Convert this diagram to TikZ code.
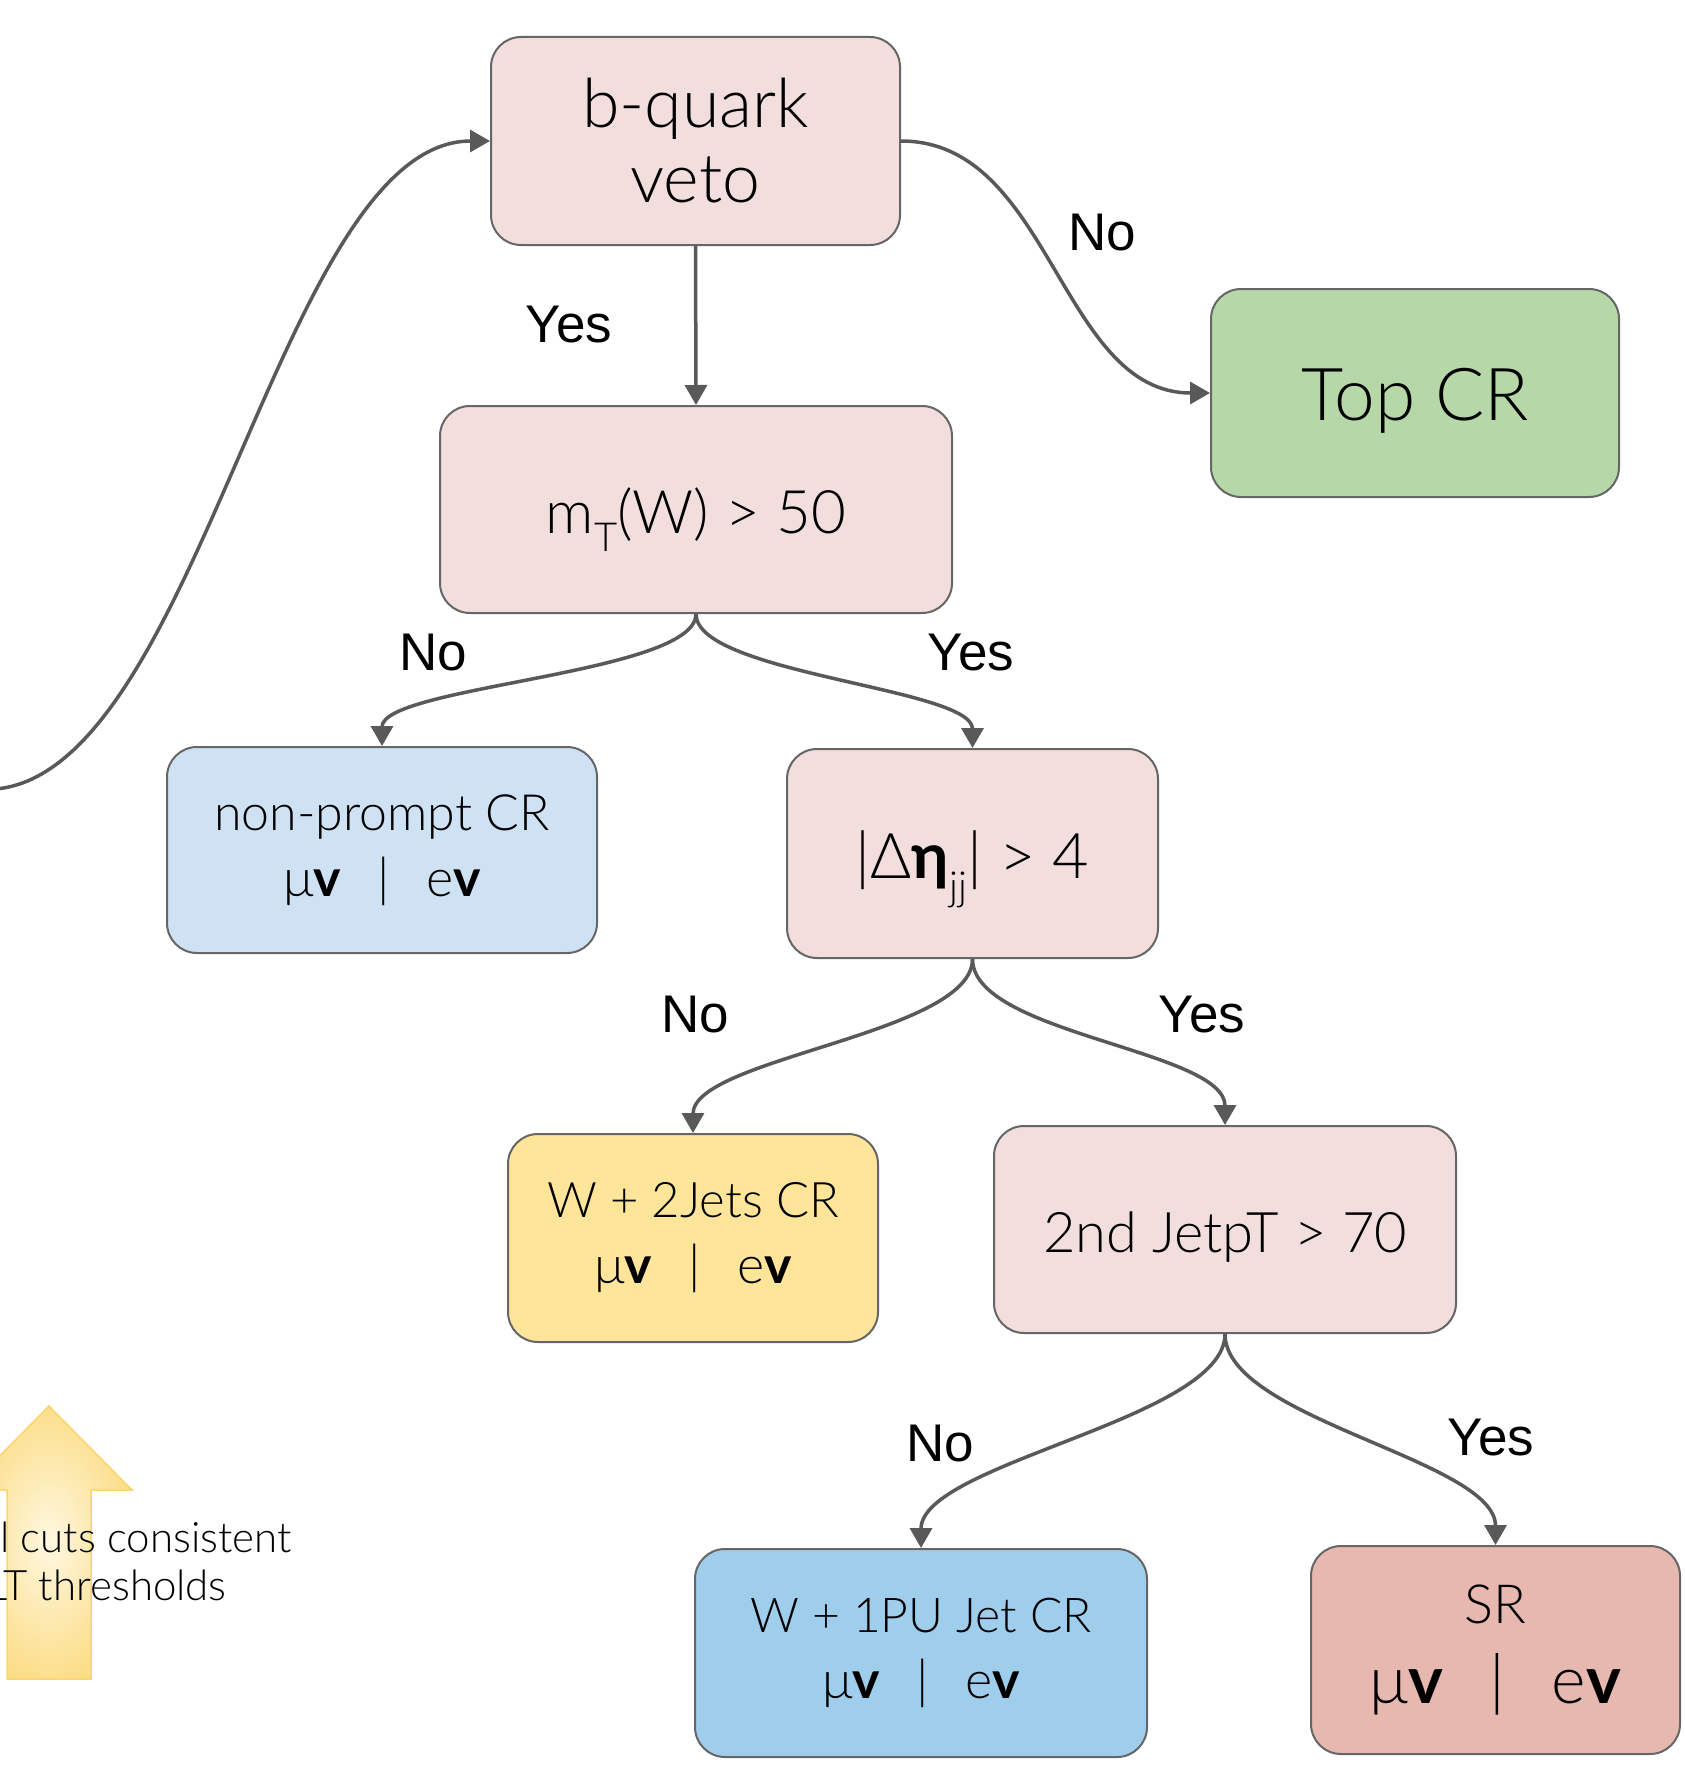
\documentclass[tikz,border=0pt]{standalone}
\usepackage{fontspec}
\setmainfont{Lato}[UprightFont=* Light, BoldFont=* Bold]
\newfontfamily\labelfont{Liberation Sans}
\usetikzlibrary{arrows.meta}

\definecolor{boxline}{HTML}{666666}
\definecolor{wire}{HTML}{595959}
\definecolor{cutpink}{HTML}{F2DEDD}
\definecolor{topgreen}{HTML}{B6D7A8}
\definecolor{npblue}{HTML}{CFE2F3}
\definecolor{wjyellow}{HTML}{FFE599}
\definecolor{publue}{HTML}{9FCDEC}
\definecolor{srred}{HTML}{E6B8AF}
\definecolor{glowin}{HTML}{FFF7E0}
\definecolor{glowout}{HTML}{FAD466}
\definecolor{glowedge}{HTML}{F9D66E}
\pgfdeclareradialshading{glow}{\pgfpoint{0bp}{0bp}}{color(0bp)=(glowin); color(36bp)=(glowout); color(60bp)=(glowout)}

% lepton channels: muon / electron with neutrino
\newcommand\lepnu{μ\textbf{v}\hspace{0.7em}|\hspace{0.7em}e\textbf{v}}
% lower a single-line label inside its box without changing its size
\newcommand\lowered[2]{\raisebox{-#1}[\height][\depth]{#2}}

\begin{document}
\begin{tikzpicture}[x=1pt,y=-1pt,
  box/.style={draw=boxline, line width=2pt, rounded corners=30pt,
    align=center, inner sep=0pt},
  conn/.style={draw=wire, line width=3.5pt,
    -{Triangle[length=20pt,width=22pt]}},
  lbl/.style={font=\labelfont\fontsize{53}{60}\selectfont, inner sep=0pt},
  note/.style={font=\fontsize{42}{48}\selectfont, inner sep=0pt}]

\fill[white] (0,0) rectangle (1685,1782);
\useasboundingbox (0,0) rectangle (1685,1782);

% decision boxes
\node[box, fill=cutpink, minimum width=409pt, minimum height=208pt,
  font=\fontsize{68}{75}\selectfont] (bq) at (695.5,141) {b-quark\\veto};
\node[box, fill=topgreen, minimum width=408pt, minimum height=208pt,
  font=\fontsize{73}{85}\selectfont] (top) at (1415,393)
  {\lowered{8pt}{Top CR}};
\node[box, fill=cutpink, minimum width=512pt, minimum height=207pt,
  font=\fontsize{60}{70}\selectfont] (mt) at (696,509.5)
  {\lowered{10pt}{m\raisebox{-0.3em}{\fontsize{40}{40}\selectfont T}(W) > 50}};
\node[box, fill=npblue, minimum width=430pt, minimum height=206pt,
  font=\fontsize{50}{66}\selectfont] (np) at (382,850)
  {non-prompt CR\\{\fontsize{52}{66}\selectfont\lepnu}};
\node[box, fill=cutpink, minimum width=371pt, minimum height=209pt,
  font=\fontsize{63}{75}\selectfont] (eta) at (972.5,853.5)
  {\lowered{16pt}{|Δ\textbf{η}\raisebox{-0.35em}{\fontsize{40}{40}\selectfont jj}| > 4}};
\node[box, fill=wjyellow, minimum width=370pt, minimum height=208pt,
  font=\fontsize{49}{66}\selectfont] (w2) at (693,1238)
  {W + 2Jets CR\\{\fontsize{52}{66}\selectfont\lepnu}};
\node[box, fill=cutpink, minimum width=462pt, minimum height=207pt,
  font=\fontsize{56}{65}\selectfont] (jt) at (1225,1229.5)
  {\lowered{8pt}{2nd JetpT > 70}};
\node[box, fill=publue, minimum width=452pt, minimum height=208pt,
  font=\fontsize{48}{66}\selectfont] (pu) at (921,1653)
  {W + 1PU Jet CR\\{\fontsize{52}{66}\selectfont\lepnu}};
\node[box, fill=srred, minimum width=369pt, minimum height=208pt,
  font=\fontsize{54}{80}\selectfont] (sr) at (1495.5,1650)
  {SR\\{\fontsize{66}{80}\selectfont\lepnu}};

% connectors
\coordinate (entry) at (-4,789);
\draw[conn] (entry) .. controls (200,770) and (280,141) .. (bq.west);
\draw[conn] (bq.south) -- (mt.north);
\draw[conn] (bq.east) .. controls +(150,0) and +(-150,0) .. (top.west);
\draw[conn] (mt.south) .. controls +(0,60) and +(0,-60) .. (np.north);
\draw[conn] (mt.south) .. controls +(0,60) and +(0,-60) .. (eta.north);
\draw[conn] (eta.south) .. controls +(0,75) and +(0,-75) .. (w2.north);
\draw[conn] (eta.south) .. controls +(0,75) and +(0,-75) .. (jt.north);
\draw[conn] (jt.south) .. controls +(0,85) and +(0,-85) .. (pu.north);
\draw[conn] (jt.south) .. controls +(0,85) and +(0,-85) .. (sr.north);

% branch labels
\node[lbl] (noTop) at (1102,233) {No};
\node[lbl] (yesB) at (569,325) {Yes};
\node[lbl] (noMt) at (433,653) {No};
\node[lbl] (yesMt) at (971,653) {Yes};
\node[lbl] (noEta) at (695,1015) {No};
\node[lbl] (yesEta) at (1202,1015) {Yes};
\node[lbl] (noJt) at (940,1444) {No};
\node[lbl] (yesJt) at (1491,1438) {Yes};

% glowing up arrow with its caption
\path[shading=glow, draw=glowedge, line width=1.5pt]
  (49,1406) -- (132,1490) -- (91,1490) -- (91,1679) -- (7,1679)
  -- (7,1490) -- (-34,1490) -- cycle;
\node[note, anchor=base west] (cap1) at (0,1552) {l cuts consistent};
\node[note, anchor=base west] (cap2) at (-14,1600) {LT thresholds};
\end{tikzpicture}
\end{document}
